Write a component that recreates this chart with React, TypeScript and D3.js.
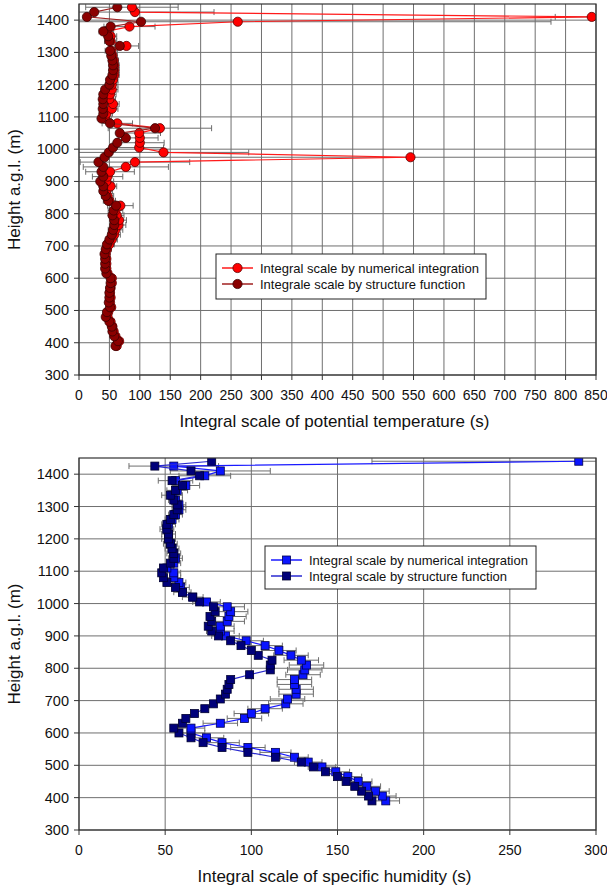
import React from 'react';
import * as d3 from 'd3';

// heights (m a.g.l.) shared by both profiles
const heights = d3.range(390, 1441, 15);

// potential temperature integral scales (s)
const thetaNumerical = [
  62, 66, 60, 57, 55, 52, 47, 48, 53, 51, 52, 51, 52, 54, 54, 47, 45, 45, 45, 44,
  46, 50, 54, 58, 60, 65, 66, 62, 60, 68, 50, 47, 45, 52, 45, 47, 51, 77, 92, 545,
  139, 99, 100, 100, 99, 133, 63, 43, 45, 54, 56, 50, 51, 54, 54, 56, 58, 58, 58, 57,
  55, 53, 78, 52, 52, 45, 83, 261, 843, 92, 87,
];
const thetaStructure = [
  60, 64, 58, 55, 54, 50, 44, 46, 51, 49, 50, 50, 51, 52, 52, 45, 43, 43, 43, 42,
  44, 46, 50, 54, 56, 58, 58, 55, 57, 61, 48, 44, 40, 40, 35, 40, 37, 40, 32, 42,
  49, 56, 63, 77, 67, 125, 51, 37, 40, 39, 40, 39, 40, 43, 50, 51, 55, 56, 56, 55,
  53, 51, 67, 50, 48, 40, 52, 102, 13, 25, 63,
];
const thetaError = [
  6, 6, 6, 6, 6, 6, 6, 6, 6, 6, 6, 6, 6, 6, 6, 6, 6, 6, 6, 7,
  7, 8, 9, 10, 12, 12, 12, 12, 12, 21, 10, 10, 10, 10, 12, 25, 40, 70, 90, 600,
  140, 40, 40, 30, 35, 85, 25, 10, 10, 10, 10, 10, 10, 10, 10, 8, 8, 8, 8, 8,
  8, 10, 20, 10, 10, 12, 42, 515, 60, 130, 76,
];

// specific humidity integral scales (s)
const qNumerical = [
  178, 176, 172, 167, 162, 156, 149, 141, 133, 125, 114, 98, 83, 74, 65, 65, 82, 96, 100, 108,
  120, 121, 126, 126, 125, 125, 130, 131, 132, 129, 123, 116, 108, 97, 85, 82, 82, 86, 87, 88,
  86, 74, 66, 60, 59, 58, 55, 55, 51, 55, 56, 55, 54, 53, 52, 52, 51, 52, 54, 56,
  58, 58, 56, 54, 57, 62, 56, 73, 82, 55, 290,
];
const qStructure = [
  170, 168, 164, 160, 155, 150, 143, 136, 129, 114, 98, 83, 72, 65, 58, 55, 60, 62, 67, 73,
  78, 82, 85, 86, 87, 88, 99, 111, 111, 112, 104, 100, 94, 88, 81, 77, 75, 77, 76, 79,
  78, 70, 66, 60, 56, 51, 49, 48, 49, 53, 55, 55, 54, 53, 52, 52, 51, 51, 53, 55,
  57, 57, 55, 53, 56, 60, 54, 70, 65, 44, 77,
];
const qError = [
  8, 8, 8, 8, 8, 8, 8, 8, 8, 8, 9, 10, 10, 10, 8, 8, 10, 10, 10, 10,
  10, 10, 10, 10, 10, 10, 10, 10, 10, 10, 10, 10, 10, 10, 8, 8, 8, 10, 10, 10,
  10, 8, 6, 5, 5, 4, 4, 4, 4, 4, 4, 4, 4, 4, 4, 4, 4, 4, 4, 4,
  4, 4, 4, 6, 6, 8, 10, 15, 29, 26, 120,
];

const yTicks = d3.range(300, 1401, 100);
const thetaTicks = d3.range(0, 851, 50);
const qTicks = d3.range(0, 301, 50);

const font = 'Arial, "Liberation Sans", sans-serif';

type SeriesStyle = { line: string; fill: string; stroke: string; shape: 'circle' | 'square' };

const Marker = ({ x, y, s }: { x: number; y: number; s: SeriesStyle }) =>
  s.shape === 'circle' ? (
    <circle cx={x} cy={y} r={4.6} fill={s.fill} stroke={s.stroke} strokeWidth={0.8} />
  ) : (
    <rect x={x - 4} y={y - 4} width={8} height={8} fill={s.fill} stroke={s.stroke} strokeWidth={0.8} />
  );

const Panel = ({ id, top, bottom, xMax, xTicks, xTitle, numerical, structure, errors, sNum, sStr, legend, labels }: any) => {
  const left = 79;
  const right = 596;
  const x = d3.scaleLinear().domain([0, xMax]).range([left, right]);
  const y = d3.scaleLinear().domain([300, 1450]).range([bottom, top]);
  const line = d3
    .line<number>()
    .x((d) => x(d))
    .y((_, i) => y(heights[i]));

  return (
    <g>
      <defs>
        <clipPath id={id}>
          <rect x={left} y={top} width={right - left} height={bottom - top} />
        </clipPath>
      </defs>
      {/* grid */}
      {xTicks.map((t: number) => (
        <line key={'gx' + t} x1={x(t)} x2={x(t)} y1={top} y2={bottom} stroke="#6f6f6f" strokeWidth={1} />
      ))}
      {yTicks.map((t) => (
        <line key={'gy' + t} x1={left} x2={right} y1={y(t)} y2={y(t)} stroke="#6f6f6f" strokeWidth={1} />
      ))}
      <g clipPath={`url(#${id})`}>
        {/* error bars on the numerical integration */}
        {numerical.map((v: number, i: number) => {
          const yy = y(heights[i]);
          const e = errors[i];
          return (
            <g key={'e' + i} stroke="#6e6e6e" strokeWidth={1}>
              <line x1={x(v - e)} x2={x(v + e)} y1={yy} y2={yy} />
              <line x1={x(v - e)} x2={x(v - e)} y1={yy - 3} y2={yy + 3} />
              <line x1={x(v + e)} x2={x(v + e)} y1={yy - 3} y2={yy + 3} />
            </g>
          );
        })}
        <path d={line(numerical) || ''} fill="none" stroke={sNum.line} strokeWidth={1.2} />
        {numerical.map((v: number, i: number) => (
          <Marker key={'n' + i} x={x(v)} y={y(heights[i])} s={sNum} />
        ))}
        <path d={line(structure) || ''} fill="none" stroke={sStr.line} strokeWidth={1.2} />
        {structure.map((v: number, i: number) => (
          <Marker key={'s' + i} x={x(v)} y={y(heights[i])} s={sStr} />
        ))}
      </g>
      <rect x={left} y={top} width={right - left} height={bottom - top} fill="none" stroke="#333" strokeWidth={1.2} />
      {/* axes */}
      {xTicks.map((t: number) => (
        <g key={'tx' + t}>
          <line x1={x(t)} x2={x(t)} y1={bottom} y2={bottom + 5} stroke="#333" />
          <text x={x(t)} y={bottom + 25} textAnchor="middle" fontSize={14} fill="#111">
            {t}
          </text>
        </g>
      ))}
      {yTicks.map((t) => (
        <g key={'ty' + t}>
          <line x1={left - 5} x2={left} y1={y(t)} y2={y(t)} stroke="#333" />
          <text x={left - 10} y={y(t) + 5} textAnchor="end" fontSize={14.5} fill="#111">
            {t}
          </text>
        </g>
      ))}
      <text x={(left + right) / 2 - 3} y={bottom + 52} textAnchor="middle" fontSize={17} fill="#111">
        {xTitle}
      </text>
      <text
        transform={`translate(20,${(top + bottom) / 2}) rotate(-90)`}
        textAnchor="middle"
        fontSize={17}
        fill="#111"
      >
        Height a.g.l. (m)
      </text>
      {/* legend */}
      <g transform={`translate(${legend[0]},${legend[1]})`}>
        <rect x={0} y={0} width={legend[2]} height={legend[3]} fill="#fff" stroke="#222" strokeWidth={1} />
        {[sNum, sStr].map((s: SeriesStyle, i: number) => (
          <g key={'l' + i} transform={`translate(0,${14 + i * 16})`}>
            <line x1={6} x2={37} y1={0} y2={0} stroke={s.line} strokeWidth={1.5} />
            <Marker x={21.5} y={0} s={s} />
            <text x={44} y={4.5} fontSize={13} fill="#111">
              {labels[i]}
            </text>
          </g>
        ))}
      </g>
    </g>
  );
};

export default function App() {
  const red = { line: '#ff1a1a', fill: '#ff0000', stroke: '#5a0000', shape: 'circle' as const };
  const darkRed = { line: '#a02020', fill: '#8b0000', stroke: '#3a0000', shape: 'circle' as const };
  const blue = { line: '#1a1aff', fill: '#0a14ff', stroke: '#000050', shape: 'square' as const };
  const navy = { line: '#2a2ad0', fill: '#00007a', stroke: '#000030', shape: 'square' as const };
  return (
    <svg
      width={607}
      height={889}
      style={{ position: 'absolute', left: 0, top: 0, background: '#fff', fontFamily: font }}
    >
      <rect width={607} height={889} fill="#fff" />
      <Panel
        id="clipTop"
        top={4}
        bottom={375}
        xMax={850}
        xTicks={thetaTicks}
        xTitle="Integral scale of potential temperature (s)"
        numerical={thetaNumerical}
        structure={thetaStructure}
        errors={thetaError}
        sNum={red}
        sStr={darkRed}
        legend={[216, 254, 270, 45]}
        labels={['Integral scale by numerical integration', 'Integrale scale by structure function']}
      />
      <Panel
        id="clipBottom"
        top={458}
        bottom={830}
        xMax={300}
        xTicks={qTicks}
        xTitle="Integral scale of specific humidity (s)"
        numerical={qNumerical}
        structure={qStructure}
        errors={qError}
        sNum={blue}
        sStr={navy}
        legend={[265, 546, 271, 43]}
        labels={['Integral scale by numerical integration', 'Integral scale by structure function']}
      />
    </svg>
  );
}
